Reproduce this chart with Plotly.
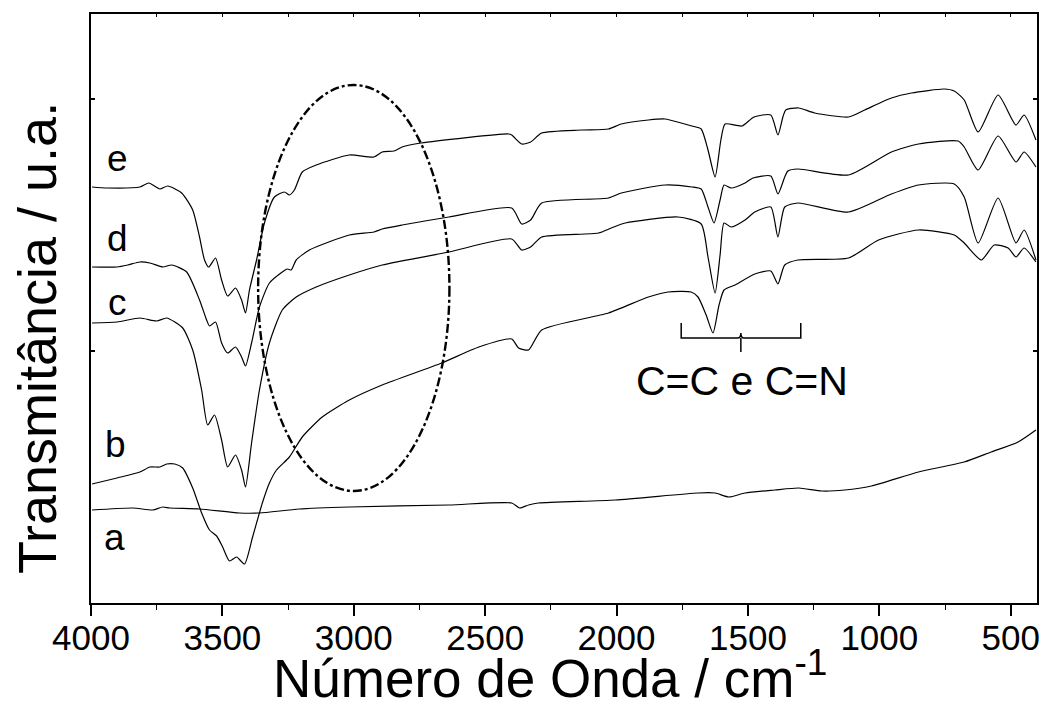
import plotly.graph_objects as go

# ---------------- data (wavenumber cm-1, transmittance a.u.) ----------------
e_x = [3996, 3939, 3814, 3780, 3738, 3708, 3655, 3613, 3587, 3568, 3552, 3526, 3503, 3480, 3450, 3427, 3412,
       3397, 3370, 3340, 3302, 3264, 3245, 3226, 3196, 3143, 3017, 2923, 2892, 2847, 2816, 2744, 2411, 2399,
       2361, 2327, 2285, 2134, 2031, 1982, 1879, 1815, 1754, 1713, 1678, 1652, 1625, 1603, 1587, 1523, 1477,
       1413, 1386, 1367, 1356, 1307, 1246, 1117, 1056, 954, 878, 753, 715, 677, 624, 548, 480, 449, 404]
e_y = [416, 415, 416, 420, 414, 417, 410, 393, 366, 343, 336, 345, 323, 307, 315, 303, 290,
       313, 343, 380, 406, 411, 408, 413, 431, 438, 448, 446, 451, 452, 456, 460, 469, 468,
       459, 461, 470, 473, 474, 479, 483, 484, 480, 477, 474, 453, 426, 463, 479, 477, 486,
       488, 468, 486, 493, 495, 490, 486, 493, 505, 510, 514, 512, 503, 471, 508, 478, 488, 463]

d_x = [3996, 3901, 3860, 3814, 3776, 3727, 3693, 3636, 3587, 3560, 3549, 3526, 3503, 3480, 3450, 3427, 3412,
       3389, 3359, 3321, 3272, 3253, 3238, 3219, 3169, 3017, 2923, 2892, 2816, 2638, 2399, 2361, 2327, 2285,
       2031, 1982, 1815, 1713, 1678, 1652, 1629, 1606, 1591, 1564, 1511, 1481, 1413, 1386, 1360, 1348, 1310,
       1117, 954, 851, 700, 677, 624, 548, 480, 449, 404]
d_y = [336, 336, 338, 341, 340, 336, 338, 331, 303, 283, 277, 281, 260, 250, 256, 246, 237,
       260, 296, 320, 331, 334, 333, 343, 353, 368, 371, 374, 378, 386, 395, 379, 383, 400,
       405, 410, 418, 416, 414, 396, 380, 403, 418, 415, 420, 425, 427, 409, 426, 432, 434,
       428, 451, 459, 462, 456, 433, 467, 441, 451, 436]

c_x = [3996, 3901, 3814, 3750, 3712, 3651, 3613, 3579, 3556, 3530, 3503, 3480, 3450, 3427, 3412, 3389, 3359,
       3321, 3272, 3219, 3143, 3017, 2892, 2638, 2399, 2361, 2327, 2285, 2069, 2020, 1967, 1766, 1678, 1652,
       1625, 1606, 1591, 1564, 1511, 1474, 1413, 1386, 1360, 1310, 1117, 954, 851, 715, 677, 624, 548, 480,
       449, 404]
c_y = [280, 281, 285, 282, 285, 275, 253, 213, 178, 188, 163, 136, 148, 133, 116, 160, 213,
       260, 293, 306, 316, 328, 338, 351, 364, 353, 356, 366, 370, 375, 380, 386, 379, 346,
       310, 348, 380, 376, 383, 391, 396, 366, 396, 400, 391, 409, 418, 419, 406, 360, 405, 360,
       373, 343]

b_x = [3996, 3901, 3814, 3776, 3738, 3712, 3681, 3651, 3613, 3579, 3549, 3522, 3499, 3473, 3446, 3416, 3385,
       3348, 3321, 3294, 3245, 3196, 3120, 3017, 2892, 2665, 2524, 2399, 2373, 2335, 2285, 2031, 1879, 1804,
       1716, 1690, 1659, 1633, 1610, 1591, 1549, 1474, 1413, 1386, 1360, 1310, 1117, 1003, 851, 715, 677,
       612, 563, 510, 480, 449, 404]
b_y = [119, 125, 131, 136, 136, 139, 139, 135, 115, 90, 73, 67, 56, 42, 46, 39, 66,
       100, 120, 133, 146, 166, 186, 203, 218, 240, 256, 264, 255, 253, 273, 290, 306, 311,
       311, 306, 288, 270, 298, 313, 318, 329, 332, 319, 338, 343, 345, 363, 373, 368, 360,
       343, 358, 355, 346, 355, 341]

a_x = [3996, 3841, 3765, 3727, 3700, 3587, 3435, 3359, 3207, 3017, 2638, 2399, 2369, 2335, 2297, 2005, 1690,
       1625, 1572, 1511, 1398, 1307, 1219, 1132, 1030, 851, 677, 574, 472, 404]
a_y = [93, 95, 93, 96, 95, 94, 90, 90, 94, 96, 98, 100, 95, 98, 100, 103, 110,
       110, 106, 110, 113, 115, 112, 113, 117, 131, 141, 151, 161, 173]

series = [("a", a_x, a_y), ("b", b_x, b_y), ("c", c_x, c_y), ("d", d_x, d_y), ("e", e_x, e_y)]

# curve labels
label_names = ["e", "d", "c", "b", "a"]
label_x = [3901, 3901, 3901, 3905, 3909]
label_y = [445, 365, 301, 159, 66]

# highlighted region (ellipse) and bracket
ellipse_x = [3364, 2636]
ellipse_y = [112, 518]
bracket_x = [1754, 1527, 1299]
bracket_y = [280, 265, 251]
bracket_text = "C=C e C=N"
bracket_text_pos = [1524, 222]

x_ticks = [4000, 3500, 3000, 2500, 2000, 1500, 1000, 500]
x_range = [4000, 400]
y_range = [0, 589]

FONT = "Liberation Sans, Arial, sans-serif"

fig = go.Figure()
for name, xs, ys in series:
    fig.add_trace(go.Scatter(x=xs, y=ys, mode="lines", name=name,
                             line=dict(color="black", width=1.2, shape="spline", smoothing=0.6),
                             showlegend=False, hoverinfo="skip"))

# invisible trace for top axis
fig.add_trace(go.Scatter(x=x_range, y=y_range, xaxis="x2", mode="lines",
                         line=dict(width=0), showlegend=False, hoverinfo="skip"))

# ellipse
fig.add_shape(type="circle", xref="x", yref="y",
              x0=ellipse_x[0], x1=ellipse_x[1], y0=ellipse_y[0], y1=ellipse_y[1],
              line=dict(color="black", width=2.4, dash="dashdot"))

# bracket
bx0, bxm, bx1 = bracket_x
byt, byh, byb = bracket_y
path = (f"M {bx0},{byt} L {bx0},{byh} L {bxm + 12},{byh} "
        f"Q {bxm},{byh} {bxm},{byh + 5} Q {bxm},{byh} {bxm - 12},{byh} "
        f"L {bx1},{byh} L {bx1},{byt}")
fig.add_shape(type="path", xref="x", yref="y", path=path, line=dict(color="black", width=1.5))
fig.add_shape(type="line", xref="x", yref="y", x0=bxm, x1=bxm, y0=byh, y1=byb,
              line=dict(color="black", width=1.5))
fig.add_annotation(x=bracket_text_pos[0], y=bracket_text_pos[1], text=bracket_text, showarrow=False,
                   xref="x", yref="y", font=dict(family=FONT, size=41, color="black"))

for n, lx, ly in zip(label_names, label_x, label_y):
    fig.add_annotation(x=lx, y=ly, text=n, showarrow=False, xref="x", yref="y",
                       font=dict(family=FONT, size=37, color="black"))

# axis titles
fig.add_annotation(x=0.485, y=-0.121, xref="paper", yref="paper", yanchor="middle", xanchor="center",
                   text="Número de Onda / cm<sup>-1</sup>", showarrow=False,
                   font=dict(family=FONT, size=53, color="black"))
fig.add_annotation(x=-0.057, y=0.45, xref="paper", yref="paper", textangle=-90,
                   xanchor="center", yanchor="middle",
                   text="Transmitância / u.a.", showarrow=False,
                   font=dict(family=FONT, size=54, color="black"))

fig.update_layout(
    width=1044, height=711,
    margin=dict(l=91, r=4, t=14, b=108),
    paper_bgcolor="white", plot_bgcolor="white",
    font=dict(family=FONT, color="black"),
    xaxis=dict(range=x_range, tickvals=x_ticks, ticks="outside", ticklen=11, tickwidth=1.5,
               tickcolor="black", showgrid=False, zeroline=False, showline=True, linewidth=2,
               linecolor="black", mirror=True, tickfont=dict(size=35, family=FONT, color="black"),
               ticklabelstandoff=-8,
               minor=dict(ticks="outside", ticklen=5, tickwidth=1, tickcolor="black", dtick=250,
                          showgrid=False)),
    xaxis2=dict(range=x_range, overlaying="x", side="top", anchor="y", ticks="inside", ticklen=3,
                tickwidth=1, tickcolor="black", dtick=250, tick0=4000, showticklabels=False,
                showgrid=False, zeroline=False, showline=False),
    yaxis=dict(range=y_range, tickvals=[0, 252, 504], ticks="inside", ticklen=4, tickwidth=1.5,
               tickcolor="black", showticklabels=False, showgrid=False, zeroline=False,
               showline=True, linewidth=2, linecolor="black", mirror="ticks"),
)

fig.write_html("out.html")
